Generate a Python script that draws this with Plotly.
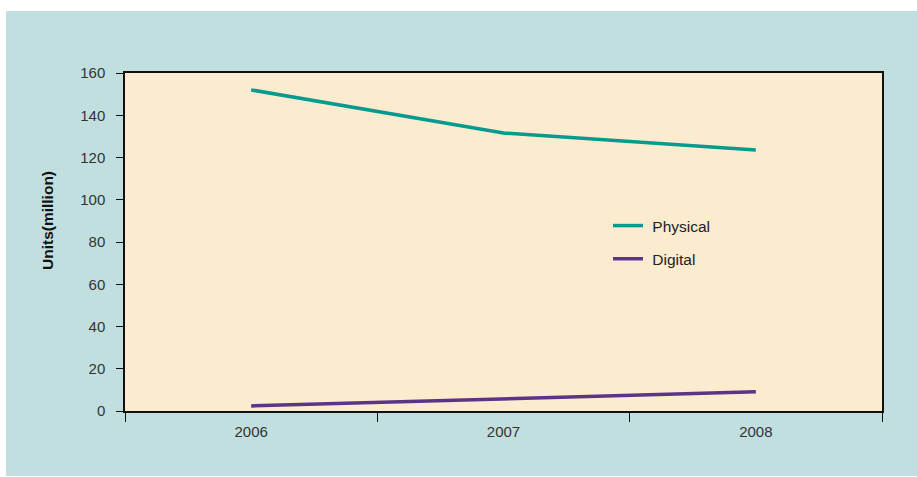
import plotly.graph_objects as go

# Units shipped per year (millions)
years = ["2006", "2007", "2008"]
physical = [152, 131.6, 123.5]
digital = [2.4, 5.7, 9.1]

W, H = 917, 477
ML, MR, MT, MB = 125, 35, 73, 66
PW, PH = W - ML - MR, H - MT - MB


def px_x(p):
    return (p - ML) / PW


def px_y(p):
    return (H - MB - p) / PH


font = "Liberation Sans, Arial, Helvetica, sans-serif"
white_edge = dict(fillcolor="white", line=dict(width=0), layer="above",
                  type="rect", xref="paper", yref="paper")

fig = go.Figure()
fig.add_trace(go.Scatter(x=years, y=physical, mode="lines", name=" Physical",
                         legendgroup="a",
                         line=dict(color="#079a8e", width=3.5)))
fig.add_trace(go.Scatter(x=years, y=digital, mode="lines", name=" Digital",
                         legendgroup="b",
                         line=dict(color="#5b3487", width=3.5)))

fig.update_layout(
    width=W, height=H,
    margin=dict(l=ML, r=MR, t=MT, b=MB),
    paper_bgcolor="#c2dfdf",
    plot_bgcolor="#fbebcf",
    font=dict(family=font, size=15, color="#333333"),
    showlegend=True,
    legend=dict(x=px_x(608), y=px_y(209), xanchor="left", yanchor="top",
                bgcolor="rgba(0,0,0,0)", font=dict(size=15.5, color="#222222"),
                tracegroupgap=10, traceorder="grouped"),
    shapes=[
        # thin white frame at the top, left and bottom of the page
        dict(x0=px_x(-2), x1=px_x(W + 2), y0=px_y(11), y1=px_y(-2), **white_edge),
        dict(x0=px_x(-2), x1=px_x(6), y0=px_y(H + 2), y1=px_y(-2), **white_edge),
        dict(x0=px_x(-2), x1=px_x(W + 2), y0=px_y(H + 2), y1=px_y(476), **white_edge),
    ],
    annotations=[
        dict(text="<b>Units(million)</b>", xref="paper", yref="paper",
             x=px_x(47), y=px_y(221), xanchor="center", yanchor="middle",
             textangle=-90, showarrow=False,
             font=dict(size=15.5, color="#111111")),
    ],
)

fig.update_xaxes(
    type="category", range=[-0.5, 2.5], tickson="boundaries",
    showline=True, linecolor="#111111", linewidth=1.5, mirror=True,
    ticks="outside", ticklen=9, tickcolor="#111111", tickwidth=1,
    showgrid=False, zeroline=False, ticklabelstandoff=6,
    tickfont=dict(size=15, color="#333333"),
)
fig.update_yaxes(
    range=[0, 160], tickvals=list(range(0, 161, 20)),
    showline=True, linecolor="#111111", linewidth=1.5, mirror=True,
    ticks="outside", ticklen=7, tickcolor="#111111", tickwidth=1,
    showgrid=False, zeroline=False, ticklabelstandoff=8,
    tickfont=dict(size=15, color="#333333"),
)

fig.write_html("out.html")
